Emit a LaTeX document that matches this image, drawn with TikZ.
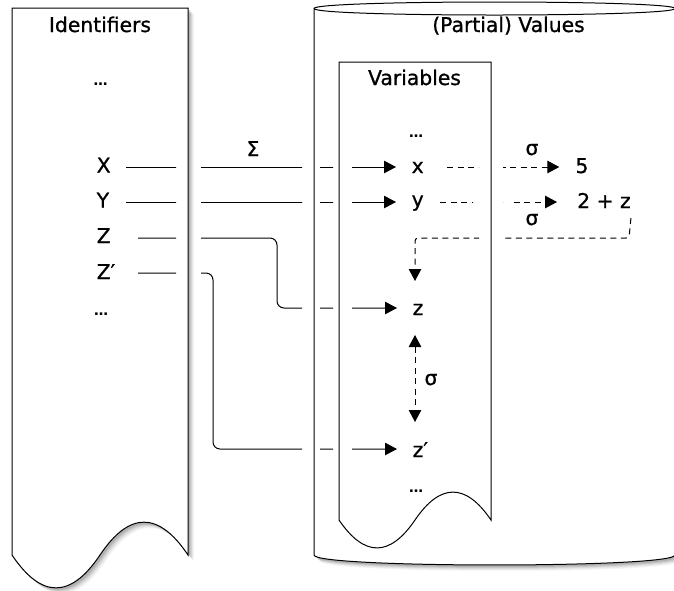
\documentclass[tikz,border=0pt]{standalone}
\usepackage{fontspec}
\setmainfont{DejaVu Sans}
\newfontfamily\lblfont{DejaVu Sans}[FakeBold=0.9]
\usetikzlibrary{arrows.meta,calc}
\newcommand\LeftDoc{(12,8) -- (188,8) -- (188,555) .. controls (158.67,511.2) and (129.33,511.2) .. (100,555) .. controls (70.67,598.8) and (41.33,598.8) .. (12,555) -- cycle}
\newcommand\VarDoc{(339,62) -- (491,62) -- (491,520) .. controls (465.67,482.8) and (440.33,482.8) .. (415,520) .. controls (389.67,557.2) and (364.33,557.2) .. (339,520) -- cycle}
\newcommand\CylBody{(314,8.5) .. controls (314,-0.17) and (675,-0.17) .. (675,8.5) -- (675,555) .. controls (675,568.3) and (314,568.3) .. (314,555) -- cycle}
\begin{document}
\begin{tikzpicture}[x=1pt,y=-1pt,
  lbl/.style={font=\lblfont\fontsize{20.3}{22}\selectfont, inner sep=0pt, anchor=base},
  dotsym/.style={font=\bfseries\fontsize{14}{16}\selectfont, inner sep=0pt, anchor=base},
  conn/.style={line width=1pt, -{Triangle[length=12pt,width=12.5pt]}},
  sconn/.style={conn, dash pattern=on 6pt off 4.5pt},
  boxshape/.style={draw=black, line width=1pt, fill=white}]
\useasboundingbox (0,0) rectangle (674,590);
% shadows
\foreach \s/\o in {6/0.04,5/0.05,4/0.07,3/0.09,2/0.1}{
  \fill[black,opacity=\o,shift={(\s,\s)}] \LeftDoc;
  \fill[black,opacity=\o,shift={(\s,\s)}] \CylBody;
}
% shapes
\path[boxshape] \LeftDoc;
\path[boxshape] \CylBody;
\draw[line width=1pt] (314,8.5) .. controls (314,17.17) and (675,17.17) .. (675,8.5);
\path[boxshape] \VarDoc;
% titles
\node[lbl] (idt) at (100,32) {Identifiers};
\node[lbl] (pvt) at (508.5,32) {(Partial) Values};
\node[lbl] (vt) at (414.5,85) {Variables};
% identifiers
\node[dotsym] (idd1) at (100.5,85) {…};
\node[lbl,anchor=base west] (X) at (96.5,172.5) {X};
\node[lbl,anchor=base west] (Y) at (96.5,207.5) {Y};
\node[lbl,anchor=base west] (Z) at (96.5,243) {Z};
\node[lbl,anchor=base west] (Zp) at (96.5,279) {Z′};
\node[dotsym] (idd2) at (101,315) {…};
% variables
\node[dotsym] (vd1) at (416,137) {…};
\node[lbl,anchor=base west] (xv) at (411.5,173) {x};
\node[lbl,anchor=base west] (yv) at (411.5,206.5) {y};
\node[lbl,anchor=base west] (zv) at (412.5,315) {z};
\node[lbl,anchor=base west] (zpv) at (412.5,457) {z′};
\node[dotsym] (vd2) at (416,492) {…};
% values
\node[lbl] (five) at (582,173) {5};
\node[lbl] (tz) at (604,208) {2 + z};
% labels
\node[lbl] (sig) at (253,156) {Σ};
\node[lbl] (s1) at (532,155) {σ};
\node[lbl] (s2) at (532,225) {σ};
\node[lbl] (s3) at (431,385) {σ};
% connectors (interrupted where they cross borders)
\begin{scope}[even odd rule]
\clip (0,0) rectangle (674,590)
  (176,150) rectangle (201,470) (302,150) rectangle (320,470)
  (333,150) rectangle (352,470) (479,150) rectangle (503,250)
  (473,195) rectangle (479,209) (503,195) rectangle (510,209);
\draw[conn] ($(X.base west)+(29.5,-5.5)$) -- ($(xv.base west)+(-15.5,-6)$);
\draw[conn] ($(Y.base west)+(29.5,-5.5)$) -- ($(yv.base west)+(-15.5,-4.5)$);
\draw[conn, rounded corners=7pt] ($(Z.base west)+(41.5,-5)$) -- (277,238) -- (277,308) -- ($(zv.base west)+(-15.5,-7)$);
\draw[conn, rounded corners=7pt] ($(Zp.base west)+(41.5,-6)$) -- (213,273) -- (213,449) -- ($(zpv.base west)+(-15.5,-8)$);
\draw[sconn] ($(xv.base west)+(35.5,-6)$) -- ($(five.base west)+(-16,-6)$);
\draw[sconn] ($(yv.base west)+(28.5,-4.5)$) -- ($(tz.base west)+(-20,-6)$);
\draw[sconn, rounded corners=3pt] ($(tz.base east)+(0,10)$) -- (629,238) -- (415,238) -- ($(zv.base west)+(2.5,-34)$);
\draw[sconn, {Triangle[length=12pt,width=12.5pt]}-{Triangle[length=12pt,width=12.5pt]}] ($(zv.base west)+(2.5,20)$) -- ($(zpv.base west)+(2.5,-35)$);
\end{scope}
\end{tikzpicture}
\end{document}
